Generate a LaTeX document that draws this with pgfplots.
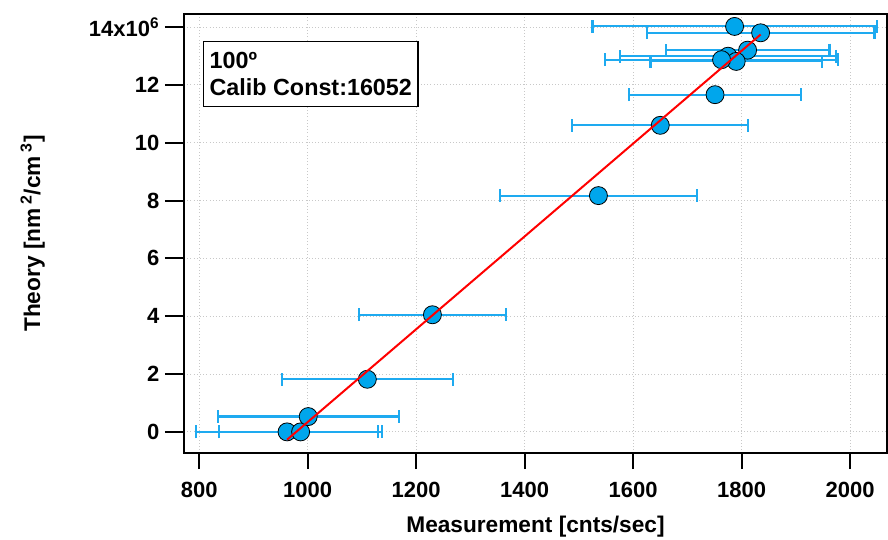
\documentclass[border=0pt]{standalone}
\usepackage{pgfplots}
\pgfplotsset{compat=1.18}
\usepackage{fontspec}
\setmainfont{Liberation Sans}
\definecolor{ptfill}{RGB}{0,166,236}
\definecolor{errc}{RGB}{30,170,240}
\definecolor{gridc}{RGB}{200,200,200}
\begin{document}
\begin{tikzpicture}
\begin{axis}[
  name=ax, at={(0,0)}, anchor=south west,
  scale only axis, width=527.25pt, height=329.25pt,
  xmin=772, xmax=2068, ymin=-0.73, ymax=14.45,
  xtick={800,1000,...,2000},
  ytick={0,2,...,14},
  yticklabels={0,2,4,6,8,10,12,{14x10\textsuperscript{6}}},
  /pgf/number format/assume math mode=true,
  /pgf/number format/1000 sep={},
  xtick align=outside, ytick align=outside,
  xtick pos=bottom, ytick pos=left,
  major tick length=12pt,
  xtick style={draw=black, line width=1.5pt},
  ytick style={draw=black, line width=1.5pt},
  axis line style={black, line width=1.5pt},
  xmajorgrids=true, ymajorgrids=true,
  major grid style={gridc, dotted, line width=0.75pt},
  ticklabel style={font=\fontsize{16.5}{18}\selectfont\bfseries},
  xticklabel style={yshift=-6pt},
  yticklabel style={xshift=-3pt},
  xlabel={Measurement [cnts/sec]},
  ylabel={Theory [nm\,\textsuperscript{2}/cm\,\textsuperscript{3}]},
  label style={font=\fontsize{17}{19}\selectfont\bfseries},
  xlabel style={at={(axis description cs:0.5,-0.18)}, anchor=base},
  ylabel style={at={(axis description cs:-0.2048,0.5)}, anchor=base, rotate=0},
  clip mode=individual,
]
% error bars
\addplot[draw=none, mark=none,
  error bars/.cd, x dir=both, x explicit,
  error bar style={errc, line width=1.6pt},
  error mark options={errc, line width=1.6pt, mark size=4.8pt, rotate=90}]
table[x=x, y=y, x error=ex] {
x y ex
962 0 168
987 0 150
1001 0.53 167
1110 1.82 158
1230 4.05 136
1536 8.17 181
1650 10.6 162
1751 11.66 159
1787 14.02 262
1835 13.8 210
1811 13.2 151
1775 12.99 199
1790 12.81 158
1763 12.87 215
};
% markers
\addplot[only marks, mark=*, mark size=6.75pt,
  mark options={fill=ptfill, draw=black, line width=0.6pt}]
table[x=x, y=y] {
x y
962 0
987 0
1001 0.53
1110 1.82
1230 4.05
1536 8.17
1650 10.6
1751 11.66
1787 14.02
1835 13.8
1811 13.2
1775 12.99
1790 12.81
1763 12.87
};
% fit line
\addplot[red, line width=1.5pt, mark=none] coordinates {(962,-0.27) (1835,13.74)};
\node[draw=black, line width=1pt, anchor=north west, align=left,
  inner xsep=4.5pt, inner ysep=8pt, fill=white,
  font=\fontsize{17.5}{20.25}\selectfont\bfseries]
  at (rel axis cs:0.027,0.9385) {100º\\Calib Const:16052};
\end{axis}
% outside tick marks (axis decoration), drawn as rules
\foreach \i in {0,...,6}{
  \node[inner sep=0pt, outer sep=0pt, anchor=north] at ({11.39pt+\i*81.375pt},0.75pt) {\color{black}\rule{1.5pt}{12.25pt}};
}
\foreach \i in {0,...,7}{
  \node[inner sep=0pt, outer sep=0pt, anchor=east] at (-0.75pt,{15.83pt+\i*43.38pt}) {\color{black}\rule{13.5pt}{1.5pt}};
}
\pgfresetboundingbox
\path[use as bounding box] (-138pt,-64.5pt) rectangle (528pt,339.75pt);
\end{tikzpicture}
\end{document}
